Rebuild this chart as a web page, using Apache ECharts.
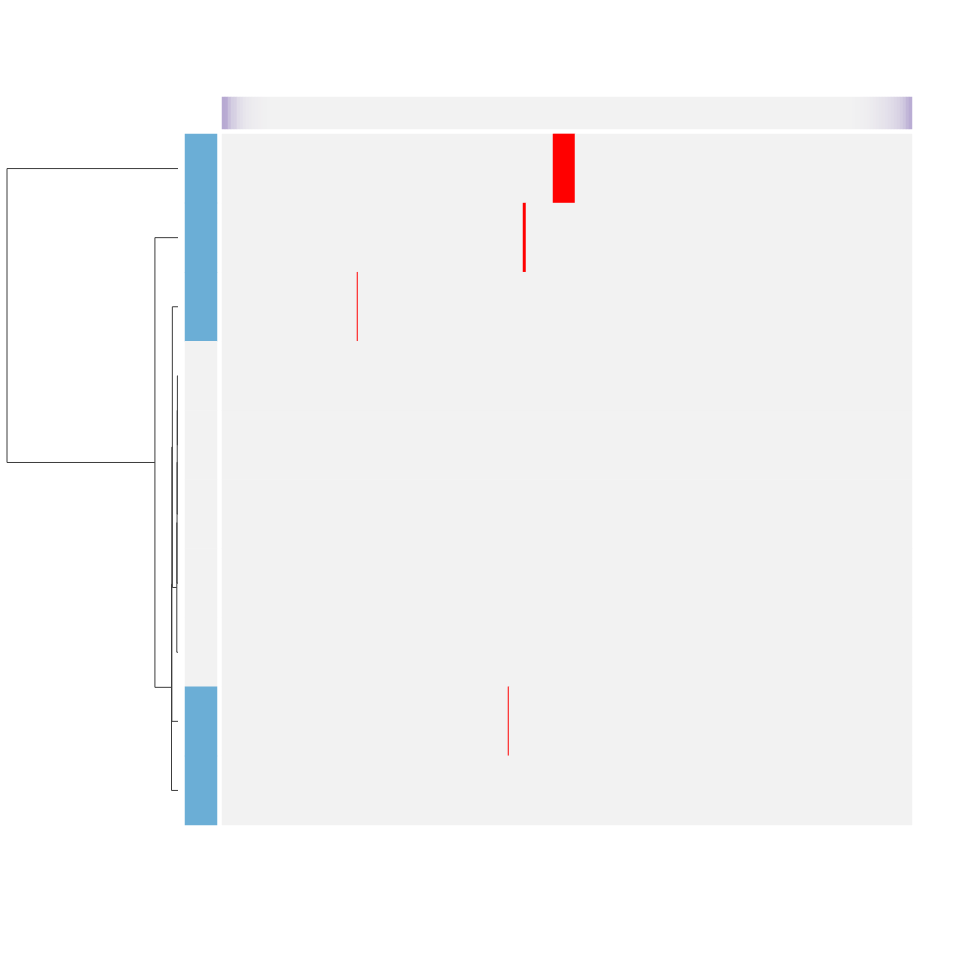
<!DOCTYPE html>
<html><head><meta charset="utf-8">
<script src="https://cdn.jsdelivr.net/npm/echarts@6/dist/echarts.min.js"></script>
<style>html,body{margin:0;padding:0;background:#fff}#c{width:960px;height:960px}</style>
</head><body><div id="c"></div>
<script>
// ---- data ----
const rowNames = ['R1','R2','R3','R4','R5','R6','R7','R8','R9','R10'];
const nCols = 690;
const rowGroup = [1,1,1,0,0,0,0,0,1,1];
// non-zero heatmap cells: row, first column, last column, value
const cellRow = [0, 1, 2, 8];
const cellColStart = [331, 301, 135, 286];
const cellColEnd = [352, 303, 135, 286];
const cellValue = [1, 1, 1, 1];
// column annotation (coarse bins)
const nAnnoBins = 230;
const colAnnoLeft = [0.72,0.7,0.5,0.36,0.33,0.22,0.18,0.13,0.1,0.08,0.06,0.05,0.04,0.03,0.02,0.01];
const colAnnoRight = [0.01,0.02,0.02,0.03,0.04,0.05,0.07,0.09,0.11,0.13,0.15,0.17,0.2,0.23,0.27,0.31,0.37,0.45,0.58,0.68];
// dendrogram merges (hclust style: negative = leaf -(index+1), positive = merge number)
const mergeLeft  = [-4, 1, 2, 3, -3, 5, 6, -2, -1];
const mergeRight = [-5, -6, -7, -8, 4, -9, -10, 7, 8];
const mergeHeight = [0.35, 0.45, 0.55, 0.7, 3.3, 3.6, 3.8, 13.5, 100];

// ---- build ----
const colCats = Array.from({length: nCols}, (_, i) => 'C' + (i + 1));
const annoCats = Array.from({length: nAnnoBins}, (_, i) => 'B' + (i + 1));
const annoVals = new Array(nAnnoBins).fill(0);
colAnnoLeft.forEach((v, i) => { annoVals[i] = v; });
colAnnoRight.forEach((v, i) => { annoVals[nAnnoBins - colAnnoRight.length + i] = v; });
const annoData = annoVals.map((v, i) => [i, 0, v]);

const grid = [];
for (let r = 0; r < rowNames.length; r++) { grid.push(new Array(nCols).fill(0)); }
cellRow.forEach((r, k) => {
  for (let c = cellColStart[k]; c <= cellColEnd[k]; c++) grid[r][c] = cellValue[k];
});
const heatData = [];
for (let r = 0; r < rowNames.length; r++) for (let c = 0; c < nCols; c++) heatData.push([c, r, grid[r][c]]);

const rowAnnoData = rowGroup.map((g, r) => [0, r, g]);

const nodePos = [];
function pos(id) {
  if (id < 0) return [0, -id - 1 + 0.5];
  return nodePos[id - 1];
}
const dendroData = [];
for (let j = 0; j < mergeHeight.length; j++) {
  const a = pos(mergeLeft[j]), b = pos(mergeRight[j]), h = mergeHeight[j];
  dendroData.push({coords: [[a[0], a[1]], [h, a[1]], [h, b[1]], [b[0], b[1]]]});
  nodePos.push([h, (a[1] + b[1]) / 2]);
}
const maxH = Math.max(...mergeHeight);

const chart = echarts.init(document.getElementById('c'), null, {renderer: 'canvas'});
const hidden = {show: false};
chart.setOption({
  backgroundColor: '#ffffff',
  animation: false,
  grid: [
    {left: 222, top: 97, width: 690, height: 32},
    {left: 222, top: 134, width: 690, height: 691},
    {left: 185, top: 134, width: 32, height: 691},
    {left: 7, top: 134, width: 171, height: 691}
  ],
  xAxis: [
    {type: 'category', data: annoCats, gridIndex: 0, ...hidden},
    {type: 'category', data: colCats, gridIndex: 1, ...hidden},
    {type: 'category', data: ['group'], gridIndex: 2, ...hidden},
    {type: 'value', min: 0, max: maxH, inverse: true, gridIndex: 3, ...hidden}
  ],
  yAxis: [
    {type: 'category', data: ['anno'], gridIndex: 0, ...hidden},
    {type: 'category', data: rowNames, inverse: true, gridIndex: 1, ...hidden},
    {type: 'category', data: rowNames, inverse: true, gridIndex: 2, ...hidden},
    {type: 'value', min: 0, max: rowNames.length, inverse: true, gridIndex: 3, ...hidden}
  ],
  visualMap: [
    {type: 'continuous', seriesIndex: 0, min: 0, max: 1, show: false, inRange: {color: ['#f2f2f2', '#a08dc6']}},
    {type: 'piecewise', seriesIndex: 1, show: false, pieces: [{value: 0, color: '#f2f2f2'}, {gt: 0, color: '#ff0000'}]},
    {type: 'piecewise', seriesIndex: 2, show: false, pieces: [{value: 0, color: '#f2f2f2'}, {value: 1, color: '#6baed6'}]}
  ],
  series: [
    {type: 'heatmap', xAxisIndex: 0, yAxisIndex: 0, data: annoData, progressive: 0, silent: true},
    {type: 'heatmap', xAxisIndex: 1, yAxisIndex: 1, data: heatData, progressive: 0, silent: true},
    {type: 'heatmap', xAxisIndex: 2, yAxisIndex: 2, data: rowAnnoData, progressive: 0, silent: true},
    {type: 'lines', coordinateSystem: 'cartesian2d', xAxisIndex: 3, yAxisIndex: 3, polyline: true,
     data: dendroData, silent: true, lineStyle: {color: '#3c3c3c', width: 1, opacity: 1}}
  ]
});
</script>
</body></html>
